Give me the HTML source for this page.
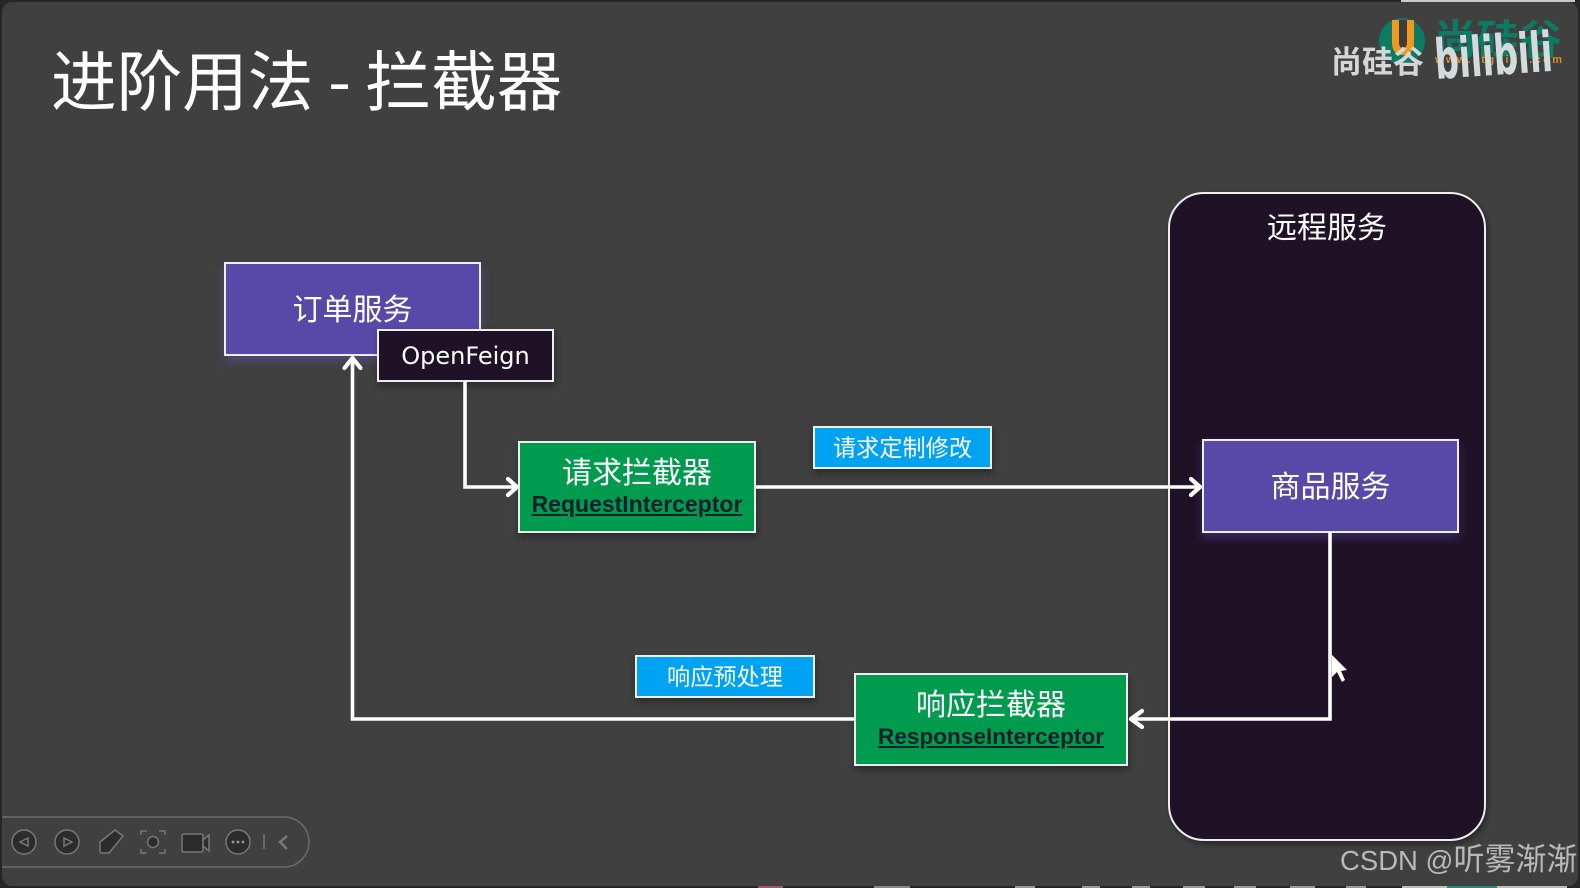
<!DOCTYPE html>
<html lang="zh"><head><meta charset="utf-8"><style>
html,body{margin:0;padding:0;width:1580px;height:888px;background:#262626;overflow:hidden}
*{box-sizing:border-box}
.f{font-family:"Liberation Sans","Noto Sans CJK SC",sans-serif}
#s{position:absolute;left:2px;top:2px;width:1576px;height:884px;background:#404040;border-radius:10px}
.b{position:absolute;border:2px solid #eee;color:#fff;text-align:center;font-family:"Noto Sans CJK SC","Liberation Sans",sans-serif;box-shadow:1px 4px 7px rgba(0,0,0,.35)}
.p{background:#5849a8;box-shadow:0 5px 9px rgba(110,90,220,.35)}
.g{background:#009b4f}
.l{background:#00a3f2;font-size:23.2px;line-height:37px}
.c{position:absolute;left:0;right:0;text-align:center;white-space:nowrap}
.u{font-weight:700;font-size:23px;color:#10202a;text-decoration:underline;font-family:"Liberation Sans",sans-serif}
svg{position:absolute;left:0;top:0}
</style></head><body>
<div style="position:absolute;left:1401px;top:0;width:174px;height:2px;background:#c8c8c8"></div>
<div id="s"></div>
<div style="position:absolute;left:51px;top:27px;font:400 65.6px/100px 'Noto Sans CJK SC',sans-serif;color:#fff;white-space:nowrap">进阶用法 - 拦截器</div>

<div class="b" style="left:1168px;top:192px;width:318px;height:649px;background:#1f1226;border-radius:36px;box-shadow:2px 3px 6px rgba(0,0,0,.4);font-size:30px"><div class="c" style="top:7px;line-height:48px">远程服务</div></div>

<div class="b p" style="left:224px;top:262px;width:257px;height:94px;font-size:30px;line-height:86px">订单服务</div>
<div class="b" style="left:377px;top:329px;width:177px;height:53px;background:#1f1226;font:24px/51px 'DejaVu Sans',sans-serif">OpenFeign</div>

<div class="b g" style="left:518px;top:441px;width:238px;height:92px"><div class="c" style="top:4px;font-size:30px;line-height:46px">请求拦截器</div><div class="c u" style="top:46px;line-height:30px">RequestInterceptor</div></div>
<div class="b l" style="left:813px;top:426px;width:179px;height:43px">请求定制修改</div>
<div class="b p" style="left:1202px;top:439px;width:257px;height:94px;font-size:30px;line-height:86px">商品服务</div>
<div class="b l" style="left:635px;top:655px;width:180px;height:43px">响应预处理</div>
<div class="b g" style="left:854px;top:673px;width:274px;height:93px"><div class="c" style="top:4px;font-size:30px;line-height:46px">响应拦截器</div><div class="c u" style="top:47px;line-height:30px;font-size:22.6px">ResponseInterceptor</div></div>

<svg width="1580" height="888" viewBox="0 0 1580 888" fill="none">
<g stroke="#fff" stroke-width="3.6">
<path d="M465 381V487H517"/><path d="M756 487H1200"/><path d="M1330 532V719H1132"/><path d="M854 719H352.5V358"/>
<g stroke-width="4.2" stroke-linecap="round" stroke-linejoin="round">
<path d="M508 479L517 487L508 495"/><path d="M1191 479L1200 487L1191 495"/><path d="M1142 711L1131 719L1142 727"/><path d="M344.500 368L352.500 358L360.500 368"/>
</g></g>
<path d="M1332 655V677L1337 672L1342 682L1345 680L1341 671L1347 670Z" fill="#fff"/>

<!-- logo -->
<circle cx="1402" cy="41" r="23" fill="#0d7a64"/>
<path d="M1392 20H1414V42Q1414 55 1403 55Q1392 55 1392 42Z" fill="#ee9a1e"/>
<path d="M1399 20H1407V42Q1407 48 1403 48Q1399 48 1399 42Z" fill="#3c3c3c"/>
<text x="1434" y="54" font-family="'Noto Sans CJK SC',sans-serif" font-weight="700" font-size="41" fill="#0d7a64" textLength="128" lengthAdjust="spacingAndGlyphs">尚硅谷</text>
<text x="1435" y="63" font-family="'Liberation Sans',sans-serif" font-weight="700" font-size="11" fill="#d98f22" textLength="127" lengthAdjust="spacing">www.atguigu.com</text>
<text x="1331" y="73" font-family="'Noto Sans CJK SC',sans-serif" font-size="31" font-weight="700" fill="#d6d6d6">尚硅谷</text>
<text font-family="'DejaVu Sans',sans-serif" font-weight="700" font-size="41" fill="#d3dcdc" textLength="118" lengthAdjust="spacingAndGlyphs" transform="translate(1436 79) rotate(-4) scale(1 1.35)">bilibili</text>

<!-- toolbar -->
<path d="M2 817H284A25 25 0 0 1 284 867H2" stroke="#6b6b6b" stroke-width="1.5" fill="#404040"/>
<g stroke="#777" stroke-width="1.5" fill="#2c2c2c">
<circle cx="24" cy="842" r="12"/><circle cx="67" cy="842" r="12"/><circle cx="238" cy="842" r="12"/>
<path d="M28 838L20 842L28 846Z" fill="none"/><path d="M64 838L72 842L64 846Z" fill="none"/>
<path d="M100 852V842L115 830L123 836L109 853H101Z"/>
<path d="M141 835V831H147M159 831H165V835M141 849V853H147M159 853H165V849" fill="none"/>
<circle cx="153" cy="842" r="5.500"/>
<rect x="182" y="834" width="21" height="18" rx="2"/><path d="M203 840L209 835V851L203 846Z"/>
<path d="M264 834V849"/>
<path d="M287 836L280 842L287 849" stroke-width="2.500" fill="none"/>
</g>
<g fill="#999"><circle cx="233" cy="842" r="1.400"/><circle cx="238" cy="842" r="1.400"/><circle cx="243" cy="842" r="1.400"/></g>

<!-- bottom strip -->
<g>
<rect x="758" y="886" width="25" height="2" fill="#a0566f"/><rect x="874" y="886" width="36" height="2" fill="#888"/>
<rect x="1015" y="886" width="20" height="2" fill="#999"/><rect x="1082" y="886" width="18" height="2" fill="#999"/>
<rect x="1132" y="886" width="18" height="2" fill="#999"/><rect x="1183" y="886" width="22" height="2" fill="#999"/>
<rect x="1234" y="886" width="22" height="2" fill="#999"/><rect x="1290" y="886" width="25" height="2" fill="#999"/>
<rect x="1346" y="886" width="20" height="2" fill="#999"/><rect x="1402" y="886" width="45" height="2" fill="#bbb"/>
<rect x="1447" y="886" width="50" height="2" fill="#2e8a78"/><rect x="1497" y="886" width="70" height="2" fill="#bbb"/>
</g>
</svg>
<div class="f" style="position:absolute;left:1340px;top:838px;font-size:27.5px;line-height:44px;color:#b9b9b9;white-space:nowrap">CSDN @<span style="font-size:31px">听雾渐渐</span></div>
</body></html>
